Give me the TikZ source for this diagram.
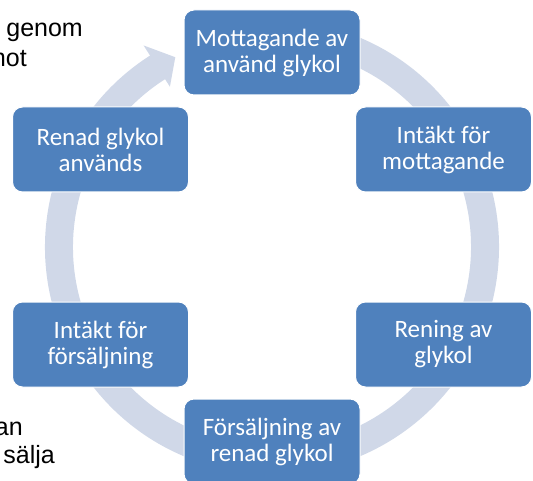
\documentclass[tikz,border=0pt]{standalone}
\usepackage{fontspec}
\setmainfont{Carlito}
\newfontfamily\arialfont{Liberation Sans}
\definecolor{boxblue}{HTML}{4F81BD}
\definecolor{ringgray}{HTML}{D0D8E8}

\begin{document}
\begin{tikzpicture}[
        x=1pt, y=1pt,
        stagebox/.style={draw=white, line width=1pt, fill=boxblue, rounded corners=10pt, minimum width=176pt, minimum height=85pt, text=white, align=center, inner sep=0pt, font=\fontsize{25}{26}\selectfont},
        ringarc/.style={draw=ringgray, line width=28pt},
        sidenote/.style={anchor=base east, inner sep=0pt, font=\arialfont\fontsize{25}{29}\selectfont},
    ]
    \useasboundingbox (0,0) rectangle (533,480);
    \clip (0,0) rectangle (533,480);
    \begin{scope}[shift={(272,233)}]
    \draw[ringarc] (80:213) arc[start angle=80, end angle=-238, radius=213];
    \fill[ringgray] (122.5:190) -- (117:213) -- (122.5:239) -- cycle;
    \end{scope}
    \node[stagebox](mott) at (272,427.5) {Mottagande av\\använd glykol};
    \node[stagebox](intmott) at (443.5,330.5) {Intäkt för\\mottagande};
    \node[stagebox](rening) at (443.5,135.5) {Rening av\\glykol};
    \node[stagebox](fors) at (272,38.5) {Försäljning av\\renad glykol};
    \node[stagebox](intfors) at (100.5,135.5) {Intäkt för\\försäljning};
    \node[stagebox](renad) at (100.5,330.5) {Renad glykol\\används};
    \node[sidenote](genom) at (83,443) {genom};
    \node[sidenote](mot) at (27,413) {mot};
    \node[sidenote](kan) at (23,45) {an};
    \node[sidenote](salja) at (55,17) {sälja};
\end{tikzpicture}
\end{document}
